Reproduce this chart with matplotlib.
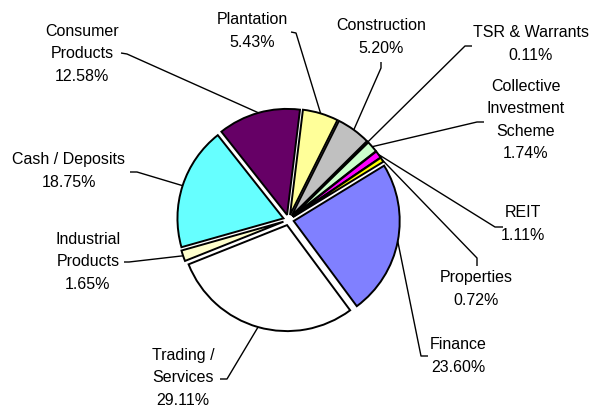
import numpy as np
import matplotlib.pyplot as plt

plt.rcParams["font.family"] = ["Liberation Sans", "DejaVu Sans"]

sectors = ["Plantation", "Construction", "TSR & Warrants",
           "Collective\nInvestment\nScheme", "REIT", "Properties", "Finance",
           "Trading /\nServices", "Industrial\nProducts", "Cash / Deposits",
           "Consumer\nProducts"]
shares = [5.43, 5.20, 0.11, 1.74, 1.11, 0.72, 23.60, 29.11, 1.65, 18.75, 12.58]
colors = ["#FFFF99", "#C0C0C0", "#C0C0C0", "#CCFFCC", "#FF00FF", "#FFFF00",
          "#8080FF", "#FFFFFF", "#FFFFCC", "#66FFFF", "#660066"]

# label layout in pixels (top-left origin): text centre, leader start, leader knee
label_xy = [(252, 31), (381, 37), (531, 44), (526, 120), (523, 224), (476, 289),
            (458, 356), (183, 378), (88, 262), (69, 171), (82, 54)]
lead_start = [(291, 32), (381, 62), (472, 46), (484, 122), (503, 227), (477, 266),
              (428, 356), (220, 379), (124, 262), (130, 172), (121, 53)]
lead_knee = [(296, 33), (381, 68), (465, 46), (477, 122), (495, 227), (477, 258),
             (421, 356), (227, 379), (129, 262), (137, 172), (127, 54)]

W, H = 590, 408
cx, cy, r = 288.5, 220, 106
gap = 5.3
start = 83

fig = plt.figure(figsize=(W / 100, H / 100), dpi=100)
ax = fig.add_axes([0, 0, 1, 1])
wedges, _ = ax.pie(shares, colors=colors, startangle=start, counterclock=False,
                   explode=[gap] * len(shares), center=(cx, H - cy), radius=r,
                   wedgeprops=dict(edgecolor="black", linewidth=1.4))

for i, w in enumerate(wedges):
    mid = np.deg2rad((w.theta1 + w.theta2) / 2)
    ox, oy = w.center
    ax_pt = (ox + r * np.cos(mid), oy + r * np.sin(mid))
    sx, sy = lead_start[i]
    kx, ky = lead_knee[i]
    ax.plot([sx, kx, ax_pt[0]], [H - sy, H - ky, ax_pt[1]], color="black",
            lw=1.0, solid_capstyle="butt", zorder=5)
    tx, ty = label_xy[i]
    ax.text(tx, H - ty, f"{sectors[i]}\n{shares[i]:.2f}%", ha="center",
            va="center", fontsize=11.5, linespacing=1.6, color="black")

ax.set_xlim(0, W)
ax.set_ylim(0, H)
ax.set_aspect("equal")
ax.axis("off")
fig.savefig("out.png", dpi=100)
